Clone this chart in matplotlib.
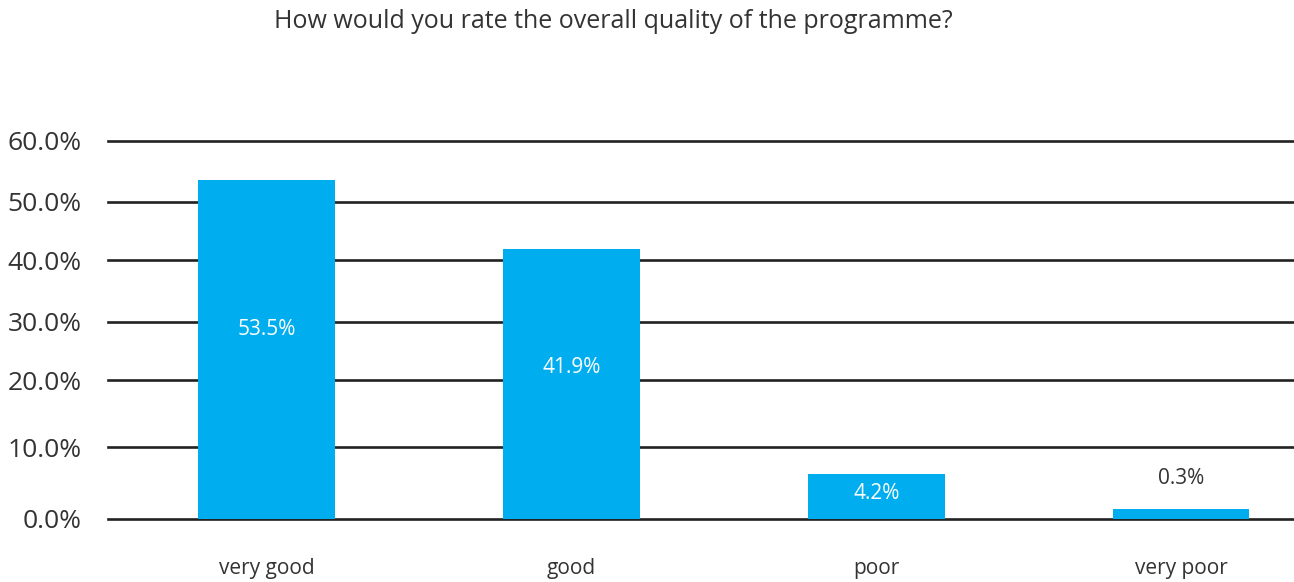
import numpy as np
import matplotlib
matplotlib.use("Agg")
import matplotlib.pyplot as plt

plt.rcParams['font.family'] = ['Open Sans', 'DejaVu Sans']

title = "How would you rate the overall quality of the programme?"
categories = ["very good", "good", "poor", "very poor"]
shares = [53.5, 41.9, 4.2, 0.3]
yticks = [0, 10, 20, 30, 40, 50, 60]

bar_color = "#00AEEF"
text_color = "#333333"

# the source image has an uneven value axis; mimic it with a warped scale
grid_px = np.array([0, 72, 138.7, 197.3, 258.7, 317.3, 378.3])
grid_val = np.array(yticks, dtype=float)

def fwd(v):
    v = np.clip(np.asarray(v, dtype=float), 0, None)
    low = 72 * (np.clip(v, 0, 10) / 10) ** 0.55
    return np.where(v < 10, low, np.interp(v, grid_val, grid_px))

def inv(p):
    p = np.clip(np.asarray(p, dtype=float), 0, None)
    low = 10 * (np.clip(p, 0, 72) / 72) ** (1 / 0.55)
    return np.where(p < 72, low, np.interp(p, grid_px, grid_val))

fig = plt.figure(figsize=(12.94, 5.82), dpi=100)
ax = fig.add_axes([108 / 1294, 1 - 519 / 582, 1 - 108 / 1294, (519 - 140.7) / 582])
ax.set_yscale('function', functions=(fwd, inv))

x = np.arange(len(categories))
bars = ax.bar(x, shares, width=0.448, color=bar_color, zorder=3)

for i, v in enumerate(shares):
    if v < 1:
        ax.text(x[i], inv(fwd(v) + 30), f"{v:.1f}%", ha='center', va='center',
                fontsize=15, color=text_color, zorder=4)
    else:
        ax.text(x[i], inv(fwd(v) * 0.56), f"{v:.1f}%", ha='center', va='center',
                fontsize=15, color='white', zorder=4)

ax.set_ylim(0, 60)
ax.set_xlim(-0.52, 3.37)
ax.set_yticks(yticks)
ax.set_yticklabels([f"{t:.1f}%" for t in yticks], fontsize=19, color=text_color)
ax.set_xticks(x)
ax.set_xticklabels(categories, fontsize=15, color=text_color)
ax.tick_params(axis='y', length=0, pad=19)
ax.tick_params(axis='x', length=0, pad=28)
ax.grid(axis='y', color='#222222', linewidth=1.9, zorder=1)
for gl in ax.get_ygridlines():
    gl.set_clip_on(False)
for s in ax.spines.values():
    s.set_visible(False)

fig.text(613 / 1294, 1 - 22 / 582, title, ha='center', va='center',
         fontsize=18, color=text_color)

fig.savefig("out.png", dpi=100)
